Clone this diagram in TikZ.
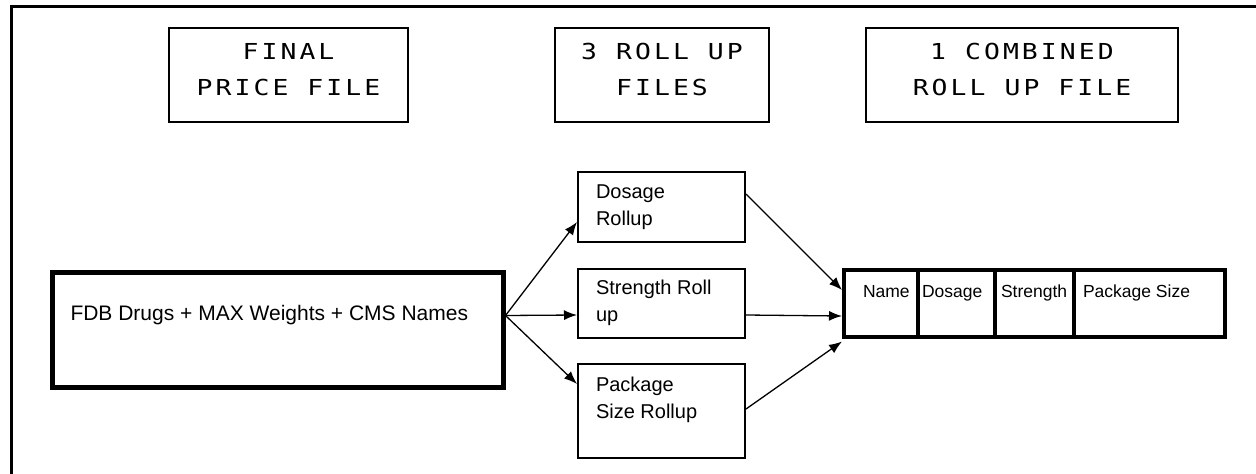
\documentclass[tikz,border=0pt]{standalone}
\usepackage{fontspec}
\setmainfont{Liberation Sans}
\newfontfamily\titlefont[FakeStretch=1.2,LetterSpace=14]{DejaVu Sans Mono}
\usepackage{tikz}
\usetikzlibrary{arrows.meta,shapes.multipart}
\newcommand{\cell}[3]{\parbox[c][67pt][t]{#1}{\hspace*{#2}\rule{0pt}{27pt}#3}}

\begin{document}
\begin{tikzpicture}[x=1pt,y=-1pt,
    titlebox/.style={draw,line width=2pt,inner sep=0pt,anchor=north west,font=\titlefont\fontsize{22}{36}\selectfont},
    rollbox/.style={draw,line width=2pt,inner sep=0pt,anchor=north west,font=\fontsize{20}{27}\selectfont},
    flow/.style={-{Latex[length=13pt,width=10pt]},line width=1.3pt}]
    \useasboundingbox (0,0) rectangle (1256,474);
    \draw[line width=3pt] (11,474) -- (11,6) -- (1256,6);
    \node[titlebox] (final) at (168,27) {\parbox[c][94pt][t]{239pt}{\centering\rule{0pt}{31pt}FINAL\\PRICE FILE}};
    \node[titlebox] (three) at (554,27) {\parbox[c][94pt][t]{214pt}{\centering\rule{0pt}{31pt}3 ROLL UP\\FILES}};
    \node[titlebox] (one) at (865,27) {\parbox[c][94pt][t]{312pt}{\centering\rule{0pt}{31pt}1 COMBINED\\ROLL UP FILE}};
    \node[draw,line width=5pt,inner sep=0pt,anchor=north west,font=\fontsize{21}{27}\selectfont] (src) at (49.5,269.5)
      {\parbox[c][115pt][t]{451pt}{\hspace*{18.5pt}\rule{0pt}{48.5pt}FDB Drugs + MAX Weights + CMS Names}};
    \node[rollbox] (dos) at (577,171) {\parbox[c][70pt][t]{167pt}{\leftskip=18pt\rule{0pt}{26pt}Dosage\\Rollup}};
    \node[rollbox] (str) at (577,268) {\parbox[c][69pt][t]{167pt}{\leftskip=18pt\rule{0pt}{25pt}Strength Roll\\up}};
    \node[rollbox] (pkg) at (577,363) {\parbox[c][94pt][t]{167pt}{\leftskip=18pt\rule{0pt}{27pt}Package\\Size Rollup}};
    \node[draw,line width=4pt,rectangle split,rectangle split horizontal,rectangle split parts=4,inner sep=0pt,
      anchor=north west,font=\fontsize{17.5}{20}\selectfont] (comb) at (842,268)
      {\cell{72pt}{19pt}{Name}\nodepart{two}\cell{73pt}{2pt}{Dosage}\nodepart{three}\cell{75pt}{4pt}{Strength}\nodepart{four}\cell{149pt}{7pt}{Package Size}};
    \draw[flow] ([yshift=14pt]src.east) -- ([yshift=-15pt]dos.west);
    \draw[flow] ([yshift=14pt]src.east) -- ([yshift=-11.5pt]str.west);
    \draw[flow] ([yshift=14pt]src.east) -- ([yshift=27pt]pkg.west);
    \draw[flow] ([yshift=13pt]dos.east) -- ([yshift=13.5pt]comb.west);
    \draw[flow] ([yshift=-11.5pt]str.east) -- ([yshift=-12.5pt]comb.west);
    \draw[flow] ([yshift=2pt]pkg.east) -- ([yshift=-38pt]comb.west);
\end{tikzpicture}
\end{document}
